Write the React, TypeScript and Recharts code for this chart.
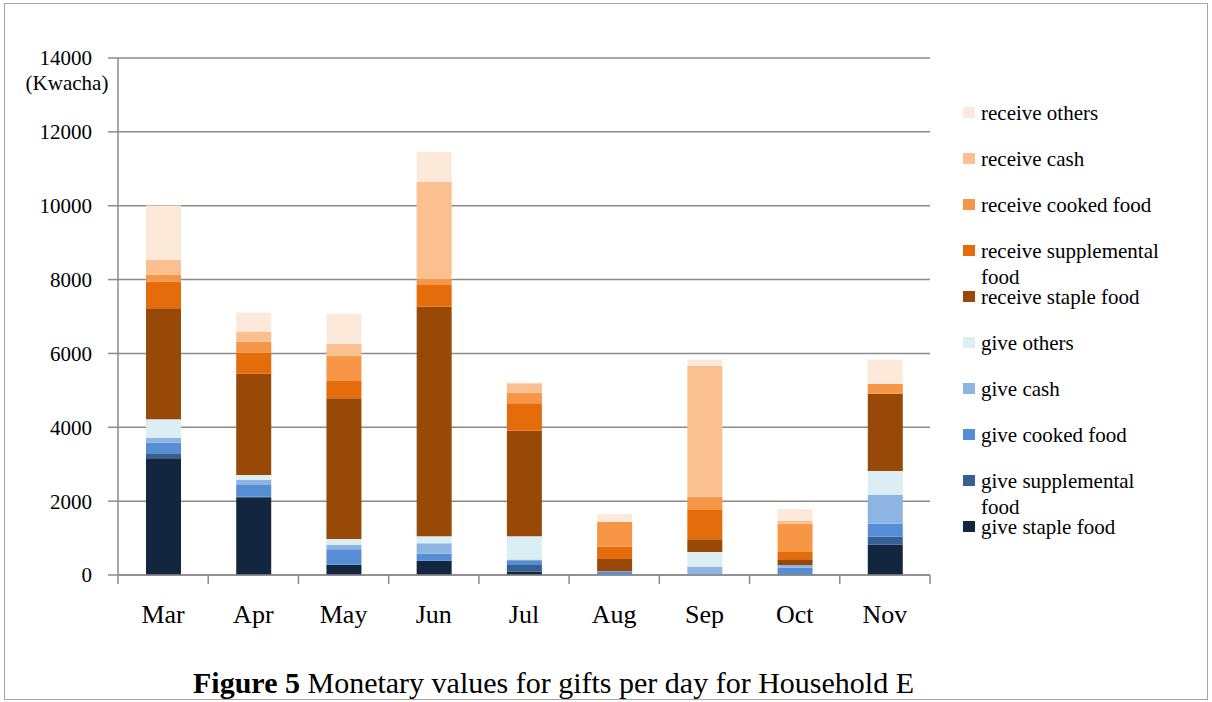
import React from 'react';
import { BarChart, Bar, XAxis, YAxis, CartesianGrid, Legend } from 'recharts';

// Monthly values, Kwacha per day
const months = ['Mar', 'Apr', 'May', 'Jun', 'Jul', 'Aug', 'Sep', 'Oct', 'Nov'];

const giveStaple = [3160, 2104, 280, 387, 90, 0, 0, 0, 822];
const giveSupplemental = [135, 20, 0, 0, 181, 0, 0, 20, 216];
const giveCooked = [290, 310, 415, 190, 127, 80, 0, 180, 352];
const giveCash = [135, 144, 126, 281, 20, 20, 226, 72, 776];
const giveOthers = [500, 127, 154, 189, 630, 0, 397, 0, 650];
const receiveStaple = [3006, 2743, 3809, 6219, 2861, 333, 343, 153, 2094];
const receiveSupplemental = [722, 569, 469, 587, 741, 334, 794, 199, 0];
const receiveCooked = [181, 298, 686, 171, 288, 668, 361, 767, 270];
const receiveCash = [406, 281, 316, 2626, 253, 0, 3547, 72, 0];
const receiveOthers = [1470, 504, 821, 813, 20, 208, 162, 325, 650];

const yTicks = [0, 2000, 4000, 6000, 8000, 10000, 12000, 14000];

// bottom to top stacking order
const series = [
  { key: 'giveStaple', name: 'give staple food', color: '#12263F', values: giveStaple },
  { key: 'giveSupplemental', name: 'give supplemental food', color: '#376092', values: giveSupplemental },
  { key: 'giveCooked', name: 'give cooked food', color: '#558ED5', values: giveCooked },
  { key: 'giveCash', name: 'give cash', color: '#8EB4E3', values: giveCash },
  { key: 'giveOthers', name: 'give others', color: '#DBEEF4', values: giveOthers },
  { key: 'receiveStaple', name: 'receive staple food', color: '#984807', values: receiveStaple },
  { key: 'receiveSupplemental', name: 'receive supplemental food', color: '#E46C0A', values: receiveSupplemental },
  { key: 'receiveCooked', name: 'receive cooked food', color: '#F79646', values: receiveCooked },
  { key: 'receiveCash', name: 'receive cash', color: '#FAC090', values: receiveCash },
  { key: 'receiveOthers', name: 'receive others', color: '#FDE9D9', values: receiveOthers },
];

const data = months.map((month, i) => {
  const row: Record<string, string | number> = { month };
  series.forEach((s) => {
    row[s.key] = s.values[i];
  });
  return row;
});

const FONT = '"Liberation Serif", "Times New Roman", serif';
const AXIS_GRAY = '#8a8a8a';

// month label plus tick marks on the category boundaries
const MonthTick = (props: any) => {
  const { x, y, payload, index } = props;
  const half = payload && payload.offset ? payload.offset : 45;
  return (
    <g>
      <line x1={x - half} y1={y} x2={x - half} y2={y + 9} stroke={AXIS_GRAY} strokeWidth={1.5} />
      {index === months.length - 1 && (
        <line x1={x + half} y1={y} x2={x + half} y2={y + 9} stroke={AXIS_GRAY} strokeWidth={1.5} />
      )}
      <text x={x} y={y + 48} textAnchor="middle" fill="#000" fontSize={26} fontFamily={FONT}>
        {payload.value}
      </text>
    </g>
  );
};

const LegendList = () => (
  <div style={{ fontFamily: FONT, fontSize: 21, color: '#000', width: 210 }}>
    {[...series].reverse().map((s) => (
      <div key={s.key} style={{ position: 'relative', height: 46 }}>
        <span
          style={{
            position: 'absolute',
            left: 0,
            top: 7,
            width: 12,
            height: 11,
            background: s.color,
          }}
        />
        <div style={{ position: 'absolute', left: 18, top: 0, width: 195, lineHeight: '26px' }}>
          {s.name}
        </div>
      </div>
    ))}
  </div>
);

export default function App() {
  return (
    <div style={{ position: 'absolute', left: 0, top: 0, width: 1212, height: 702, background: '#fff' }}>
      <div
        style={{
          position: 'absolute',
          left: 4,
          top: 3,
          width: 1204,
          height: 697,
          border: '1.5px solid #a6a6a6',
          boxSizing: 'border-box',
        }}
      />
      <BarChart
        width={1212}
        height={702}
        data={data}
        margin={{ top: 58, right: 282, left: 0, bottom: 77 }}
        barSize={35}
      >
        <CartesianGrid vertical={false} stroke={AXIS_GRAY} strokeWidth={1.5} />
        <XAxis
          dataKey="month"
          height={50}
          tickSize={0}
          tickMargin={0}
          tickLine={false}
          axisLine={{ stroke: AXIS_GRAY, strokeWidth: 1.5 }}
          tick={<MonthTick />}
          interval={0}
        />
        <YAxis
          width={118}
          domain={[0, 14000]}
          ticks={yTicks}
          tickSize={10}
          tickMargin={16}
          axisLine={{ stroke: AXIS_GRAY, strokeWidth: 1.5 }}
          tickLine={{ stroke: AXIS_GRAY, strokeWidth: 1.5 }}
          tick={{ fill: '#000', fontSize: 21, fontFamily: FONT }}
        />
        <Legend
          layout="vertical"
          verticalAlign="middle"
          align="center"
          content={<LegendList />}
          wrapperStyle={{ position: 'absolute', left: 963, top: 100, width: 220 }}
        />
        {series.map((s) => (
          <Bar
            key={s.key}
            dataKey={s.key}
            name={s.name}
            stackId="gifts"
            fill={s.color}
            isAnimationActive={false}
          />
        ))}
      </BarChart>
      <div
        style={{
          position: 'absolute',
          left: 17,
          top: 71,
          width: 100,
          textAlign: 'center',
          fontFamily: FONT,
          fontSize: 21,
          color: '#000',
        }}
      >
        (Kwacha)
      </div>
      <div
        style={{
          position: 'absolute',
          left: 0,
          top: 666,
          width: 1107,
          textAlign: 'center',
          fontFamily: FONT,
          fontSize: 30,
          color: '#000',
        }}
      >
        <b>Figure 5</b> Monetary values for gifts per day for Household E
      </div>
    </div>
  );
}
